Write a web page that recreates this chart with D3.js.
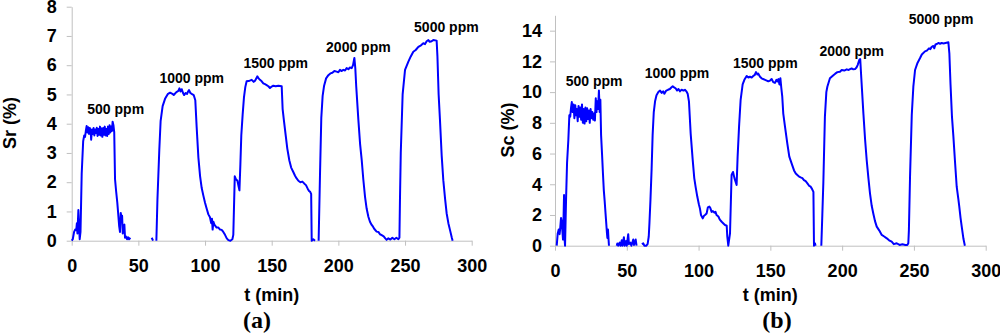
<!DOCTYPE html>
<html>
<head>
<meta charset="utf-8">
<script src="https://cdn.jsdelivr.net/npm/d3@7"></script>
<style>
  body { margin: 0; background: #fff; }
  svg { display: block; }
  .axis path, .axis line { stroke: #c0c0c0; }
  .axis text { font-family: "Liberation Sans", Arial, sans-serif; font-weight: bold; font-size: 18px; fill: #000; }
  .lbl { font-family: "Liberation Sans", Arial, sans-serif; font-weight: bold; fill: #000; }
</style>
</head>
<body>
<div id="chart"></div>
<script>
// Sr response, [t (min), Sr (%)]; null = no data drawn
var srPoints = [
  [0,0],[0.8,0.05],[1.8,0.3],[2.6,0.38],[3.4,0.36],[3.9,0.6],[4.3,0.25],[5,1.05],[5.5,0.5],[6,0.05],[6.6,0.3],
  [7.5,2.3],[8.6,3.4],[9.4,3.6],[10,3.55],[10.6,3.75],[11.2,3.92],[11.8,3.7],[12.4,3.88],[13,3.65],[13.6,3.85],
  [14.2,3.75],[14.6,3.45],[15.2,3.8],[15.8,3.65],[16.4,3.85],[17,3.6],[17.6,3.8],[18.2,3.68],[18.8,3.86],[19.4,3.58],
  [20,3.82],[20.6,3.62],[21.2,3.9],[21.8,3.6],[22.4,3.84],[23,3.55],[23.6,3.85],[24.2,3.62],[24.8,3.9],[25.4,3.6],
  [26,3.82],[26.6,3.58],[27.2,3.9],[27.8,3.65],[28.4,3.95],[29,3.7],[29.6,3.9],[30.2,3.75],[30.7,4.07],[31.3,3.95],
  [31.9,3.7],[32.5,2.1],[33.3,1.7],[34.2,1.3],[35,0.85],[35.6,0.5],[36.2,0.3],[36.8,0.95],[37.3,0.7],[37.8,0.85],
  [38.3,0.25],[38.9,0.5],[39.5,0.55],[40,0.1],[40.6,0.15],[41.5,0.05],[42.2,0.12],[43,0.05],[44,0.1],
  null,
  [60,0.1],[61,0],
  null,
  [63.5,0],[64.3,1.4],[65.7,3.1],[66.7,4.1],[68.2,4.6],[70,4.85],[72,5.01],[73.8,5.06],[75.5,5.02],[76.5,4.98],
  [78.5,5.08],[80,5.12],[80.8,5.21],[81.6,5.1],[82.5,5.18],[83.5,5.05],[84.3,4.98],[85.5,5.05],[86.5,5.02],[87.3,5.1],
  [88,5.15],[89,5.05],[90,5.02],[91.5,4.98],[92.7,4.8],[93.7,3.9],[95,2.85],[96.3,2.2],[97.5,1.8],[98.7,1.55],
  [100,1.3],[101.2,1.1],[102.5,0.9],[103.7,0.8],[104.6,0.6],[105.2,0.75],[105.7,0.38],[106.3,0.65],[107,0.55],
  [108.7,0.45],[110,0.45],[111.3,0.38],[112.5,0.37],[113.7,0.3],[115,0.2],[116.3,0.08],[117.5,0.02],[119,0],
  [120.5,0.05],[121.2,0.2],[122.3,2.2],[123.2,2.1],[124.3,2.05],[125.2,1.85],[125.8,1.72],[126.5,2.6],[127.2,3.6],
  [128.2,4.3],[129.2,4.9],[130.2,5.25],[131.2,5.45],[133.5,5.47],[135,5.5],[136.5,5.43],[137.5,5.47],[138.5,5.55],
  [139.2,5.62],[140.2,5.55],[141.2,5.5],[142.5,5.45],[143.7,5.38],[145,5.35],[146.2,5.32],[147.5,5.28],[148.7,5.22],
  [150,5.27],[151.2,5.3],[153,5.28],[155,5.3],[157.5,5.28],[158.2,4.5],[159.2,4.1],[160.5,3.6],[161.7,3.15],
  [163.2,2.75],[164.6,2.5],[166.2,2.35],[167.5,2.22],[168.7,2.13],[170,2.05],[171.5,2],[173,2.02],[174.5,1.95],
  [175.7,1.9],[177,1.78],[178,1.7],[178.7,1.68],[179.6,1.6],[180,0],[181.2,0.05],[182.5,0],
  null,
  [185.2,0],[186.2,2.2],[187.2,4.2],[188.2,4.95],[189.3,5.3],[190.8,5.55],[192.5,5.66],[194,5.72],[195.5,5.74],
  [197,5.8],[198.7,5.78],[200,5.76],[201.2,5.84],[202.5,5.8],[203.7,5.84],[205,5.82],[206.2,5.9],[207.5,5.86],
  [208.7,5.92],[210,5.9],[211,6],[212,6.25],[212.7,5.9],[213.4,5.27],[215,4.13],[216.3,3.3],[217.5,2.76],[218.7,2.1],
  [220,1.5],[221.2,1.1],[222.5,0.82],[223.7,0.65],[225,0.54],[226,0.48],[227,0.4],[228.7,0.31],[230,0.3],[231.2,0.22],
  [232.5,0.19],[234,0.15],[235.2,0.08],[236.2,0.03],[237.5,0.08],[239,0.04],[240.5,0.1],[242,0.05],[243.5,0.1],
  [245,0.05],[245.8,0.1],[246.2,1.4],[246.8,3],[248.2,5],[250,5.84],[252.5,6.12],[254.3,6.3],[256.2,6.46],[258,6.52],
  [260,6.63],[262,6.68],[263.7,6.75],[265,6.72],[266.2,6.82],[267.5,6.86],[268.5,6.8],[270,6.82],[271.2,6.86],
  [273.7,6.84],[274.3,6.3],[275.2,5],[276.2,4.13],[277.5,2.9],[278.7,2.07],[280,1.45],[281.2,0.94],[282.5,0.6],
  [283.7,0.37],[285,0.12],[285.7,0]
];

// Sc response, [t (min), Sc (%)]
var scPoints = [
  [1.2,0],[1.9,0.8],[2.6,1.05],[3.2,0.75],[3.6,1.1],[4.2,1.8],[4.7,1.55],[5.2,0.9],[5.6,0.4],[6,2],[6.3,3.3],
  [6.7,0.4],[7,0],[7.7,3],[8.4,5.4],[9.3,6.9],[10,8.5],[10.6,8.4],[11.2,9],[11.7,9.35],[12.3,8.7],[12.9,9.2],
  [13.5,8.3],[14.1,9.15],[14.7,8.5],[15.2,8.9],[15.8,8.1],[16.4,9.1],[17,8.4],[17.6,9],[18.2,8.2],[18.8,9.2],
  [19.4,8],[20,8.9],[20.6,7.95],[21.2,9],[21.8,8.1],[22.4,8.95],[23,8.25],[23.6,8.8],[24.2,8],[24.8,8.9],[25.4,8.3],
  [26,8.7],[26.6,8.2],[27.2,8.6],[27.8,8.15],[28.4,9.6],[28.9,8.7],[29.4,9.4],[30,8.9],[30.6,10.1],[31.1,8.7],
  [31.6,9.5],[32.1,7.2],[32.8,5.9],[33.4,4.7],[34,3.6],[34.6,2.9],[35.2,2.1],[35.7,1.45],[36.2,0.8],[36.5,0.5],
  [36.9,1.05],[37.3,0.4],[37.6,0],
  null,
  [43,0],[43.4,0.15],[44,0],[45,0.2],[45.6,0],[46.5,0.35],[47,0],[48,0.55],[48.5,0],[49.5,0.3],[50,0],[51,0.75],
  [51.5,0.1],[52.5,0.2],[53.2,0],[54.5,0.4],[55,0.05],[56.2,0.4],[56.8,0],
  null,
  [60.5,0.1],[61.5,0.15],[62.2,0],[63.5,0],[64.5,0.1],[65.3,0.6],[65.8,1.5],[66.5,3],[67.3,5],[68,7.2],[68.8,8.7],
  [69.7,9.4],[70.7,9.8],[72,10],[73.2,10.1],[74.3,9.95],[75.3,10.05],[76.2,9.9],[77.5,10.1],[78.7,10.15],[80,10.2],
  [81,10.3],[82,10.38],[83,10.3],[84,10.25],[85,10.1],[86,10.2],[87,10.05],[88.2,10.15],[89.5,10.1],[90.5,10.15],
  [91.5,10.05],[92.4,9.9],[93.3,9.4],[94.5,7.3],[95.9,5.6],[97,4.4],[98,3.8],[99.1,3.2],[100.2,2.7],[101,2.4],
  [101.7,2],[102.9,1.78],[103.8,1.95],[104.5,2],[105.6,2.1],[106.5,2.5],[107.5,2.55],[108.2,2.45],[109.1,2.2],
  [110,2.25],[111,2.15],[111.8,2.2],[112.5,2],[113.8,1.9],[114.8,1.7],[116.1,1.56],[117.3,1.45],[118.4,1.35],
  [119.6,1.3],[120,0.6],[120.7,0],[121.9,0.8],[123,4.6],[124,4.8],[125,4.4],[126,4.1],[126.5,3.95],[127.2,5.8],
  [128.2,7.75],[129.3,9.5],[130.7,10.5],[131.9,10.8],[133.5,11.05],[134.7,10.95],[135.8,11],[137,10.95],[138.1,11.05],
  [139,11.1],[140,11.3],[141,11.15],[141.6,11.2],[142.8,11],[143.9,10.9],[145,10.85],[146.3,10.8],[147.5,10.75],
  [148.6,10.7],[149.8,10.75],[150.9,10.85],[152,10.65],[153.2,10.6],[154.2,10.8],[154.9,10.7],[155.6,10.85],
  [156.3,10.5],[157,10.9],[157.6,10.3],[158.3,9.7],[159,8.6],[160.2,7.75],[161.8,6.66],[163.2,5.8],[164.8,5.36],
  [166.5,4.9],[167.7,4.7],[168.8,4.6],[170,4.5],[171.1,4.45],[172.3,4.4],[173.4,4.27],[174.6,4.2],[175.8,4.06],
  [177,3.9],[178.1,3.84],[179,3.7],[179.5,3.6],[180,3.5],[180.4,0],[181.1,0.15],[181.5,0],
  null,
  [185.5,0],[186.2,2],[186.9,4.06],[188,8.4],[189,10],[189.7,10.35],[191.5,10.9],[193.9,11.1],[195.2,11.2],
  [196.7,11.3],[198.5,11.33],[199.7,11.44],[201.5,11.4],[203.2,11.48],[204.5,11.44],[205.5,11.5],[206.6,11.54],
  [207.8,11.48],[209,11.5],[210,11.6],[210.8,11.76],[212,12.1],[212.6,12.15],[213.3,11],[214.8,8.62],[216,6.9],
  [217.1,5.58],[218.3,4.4],[219.4,3.41],[220.6,2.6],[221.7,2.1],[222.9,1.6],[224.1,1.24],[225.8,1],[227.6,0.7],
  [229.3,0.6],[231.1,0.48],[232.7,0.35],[234.5,0.26],[236,0.1],[238,0.16],[240,0.05],[242,0.1],[244,0.05],
  [245.4,0.05],[246.1,0.16],[246.5,1],[247.3,4.5],[248.5,8.5],[249.6,10.35],[250.8,11.44],[252.5,11.9],[254.2,12.2],
  [255.5,12.45],[257.7,12.65],[259,12.7],[260.5,12.85],[261.5,12.8],[262.4,12.95],[263.5,13],[264.2,12.85],
  [265,13.1],[266,13.13],[267,13.2],[268.2,13.15],[269.4,13.2],[270.5,13.17],[272,13.2],[274,13.24],[274.7,12.5],
  [275.5,10.5],[276.5,8.4],[277.5,7.1],[278.6,5.5],[279.8,3.84],[281,3],[281.6,2.54],[282.5,1.8],[283.3,1.24],
  [284.5,0.45],[285.5,0]
];

// concentration annotations (anchor in data units)
var ppmLabels = ["500 ppm", "1000 ppm", "1500 ppm", "2000 ppm", "5000 ppm"];
var srLabelT = [33, 90, 153, 215, 281];
var srLabelV = [4.5, 5.56, 6.07, 6.62, 7.3];
var scLabelT = [27.2, 85, 146.5, 206.7, 268.9];
var scLabelV = [10.74, 11.24, 11.87, 12.7, 14.76];

var xTicks = [0, 50, 100, 150, 200, 250, 300];
var srTicks = [0, 1, 2, 3, 4, 5, 6, 7, 8];
var scTicks = [0, 2, 4, 6, 8, 10, 12, 14];

var svg = d3.select('#chart').append('svg')
    .attr('width', 1000)
    .attr('height', 333);

drawPanel({
    points: srPoints,
    labelT: srLabelT, labelV: srLabelV,
    yTicks: srTicks, yMax: 8,
    x0: 71.7, x1: 471.7, y0: 240.7, y1: 6.7,
    yPad: 10, yTitle: 'Sr (%)', yTitleX: 9.5, yTitleY: 123,
    tag: '(a)', tagX: 257
});
drawPanel({
    points: scPoints,
    labelT: scLabelT, labelV: scLabelV,
    yTicks: scTicks, yMax: 15,
    x0: 555, x1: 985.7, y0: 245.7, y1: 15.3,
    yPad: 8, yTitle: 'Sc (%)', yTitleX: 508, yTitleY: 130,
    tag: '(b)', tagX: 777
});

function drawPanel(o){
    var x = d3.scaleLinear().domain([0, 300]).range([o.x0, o.x1]);
    var y = d3.scaleLinear().domain([0, o.yMax]).range([o.y0, o.y1]);

    var xAxis = d3.axisBottom(x).tickValues(xTicks).tickSize(5).tickSizeOuter(0).tickPadding(14);
    var yAxis = d3.axisLeft(y).tickValues(o.yTicks).tickSize(5).tickSizeOuter(0).tickPadding(o.yPad);

    var g = svg.append('g');
    g.append('g')
        .attr('class', 'axis')
        .attr('transform', 'translate(0,' + o.y0 + ')')
        .call(xAxis);
    g.append('g')
        .attr('class', 'axis')
        .attr('transform', 'translate(' + o.x0 + ',0)')
        .call(yAxis);
    g.selectAll('.axis text').attr('font-family', null).attr('font-size', null);

    var line = d3.line()
        .defined(function (d) { return d !== null; })
        .x(function (d) { return x(d[0]); })
        .y(function (d) { return y(d[1]); });

    g.append('path')
        .datum(o.points)
        .attr('d', line)
        .attr('fill', 'none')
        .attr('stroke', '#0000ff')
        .attr('stroke-width', 2)
        .attr('stroke-linejoin', 'round');

    g.selectAll('text.ppm')
        .data(ppmLabels)
        .enter()
        .append('text')
        .attr('class', 'lbl ppm')
        .attr('x', function (d, i) { return x(o.labelT[i]); })
        .attr('y', function (d, i) { return y(o.labelV[i]); })
        .attr('dy', '0.35em')
        .attr('text-anchor', 'middle')
        .attr('font-size', 14)
        .text(function (d) { return d; });

    g.append('text')
        .attr('class', 'lbl')
        .attr('transform', 'translate(' + o.yTitleX + ',' + o.yTitleY + ') rotate(-90)')
        .attr('dy', '0.35em')
        .attr('text-anchor', 'middle')
        .attr('font-size', 18)
        .text(o.yTitle);

    g.append('text')
        .attr('class', 'lbl')
        .attr('x', (o.x0 + o.x1) / 2)
        .attr('y', 295)
        .attr('dy', '0.35em')
        .attr('text-anchor', 'middle')
        .attr('font-size', 18)
        .text('t (min)');

    g.append('text')
        .attr('x', o.tagX)
        .attr('y', 328)
        .attr('text-anchor', 'middle')
        .attr('font-family', '"Liberation Serif", "Times New Roman", serif')
        .attr('font-weight', 'bold')
        .attr('font-size', 24)
        .text(o.tag);
}
</script>
</body>
</html>
